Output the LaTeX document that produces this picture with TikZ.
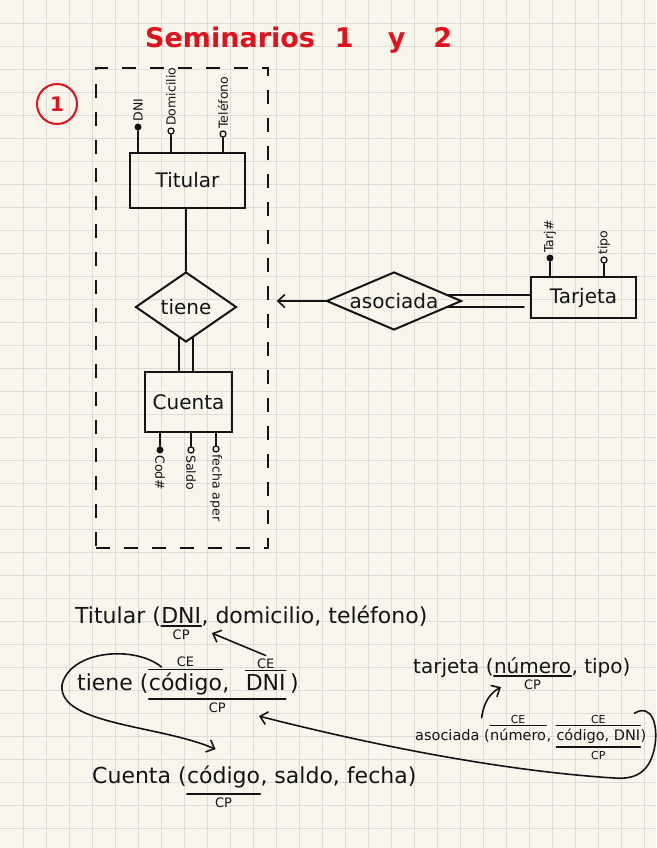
\documentclass[tikz,border=0pt]{standalone}
\usepackage{fontspec}
\setmainfont{DejaVu Sans}
\usetikzlibrary{shapes.geometric,arrows.meta,calc}
\definecolor{paper}{HTML}{F8F6EB}
\definecolor{gridc}{HTML}{DDDCD6}
\definecolor{ink}{HTML}{141414}
\definecolor{inkred}{HTML}{E0121C}
\newcommand{\fsz}[1]{\fontsize{#1}{#1}\selectfont}
\begin{document}
\begin{tikzpicture}[x=1pt,y=-1pt,
  ln/.style={draw=ink,line width=1.5pt,line cap=round},
  entity/.style={draw=ink,line width=2pt,inner sep=0pt,font=\fsz{20},text=ink},
  rel/.style={draw=ink,diamond,line width=2pt,inner sep=0pt,font=\fsz{20},text=ink},
  attr/.style={inner sep=1.5pt,font=\fsz{12.5},text=ink},
  keydot/.style={circle,fill=ink,inner sep=0pt,minimum size=7pt},
  opendot/.style={circle,draw=ink,line width=1.3pt,inner sep=0pt,minimum size=6pt},
  rt/.style={inner sep=0pt,anchor=base west,font=\fsz{22},text=ink},
  rts/.style={rt,font=\fsz{20}},
  rtx/.style={rt,font=\fsz{14.5}},
  lbl/.style={inner sep=0pt,font=\fsz{13},text=ink},
  lbls/.style={inner sep=0pt,font=\fsz{11},text=ink},
  ul/.style={draw=ink,line width=1.4pt,line cap=round},
  arr/.style={draw=ink,line width=1.6pt,line cap=round,-{Straight Barb[length=7pt,width=13pt,line width=1.6pt]}},
]
\useasboundingbox (0,0) rectangle (656,848);
\fill[paper] (0,0) rectangle (656,848);
\foreach \i in {1,...,28} \draw[gridc,line width=0.7pt] (\i*23,0) -- (\i*23,848);
\foreach \j in {1,...,36} \draw[gridc,line width=0.7pt] (0,\j*23) -- (656,\j*23);

% title
\node[font=\bfseries\fsz{27},text=inkred,anchor=base west,inner sep=0pt] (title) at (145,48) {Seminarios\hspace{20pt}1\hspace{34pt}y\hspace{28pt}2};
\node[circle,draw=inkred,line width=2pt,minimum size=40pt,inner sep=0pt,text=inkred,font=\bfseries\fsz{20}] (one) at (57,104) {1};

% aggregation box
\node[draw=ink,line width=1.4pt,dash pattern=on 14pt off 14pt,minimum width=172pt,minimum height=480pt,inner sep=0pt] (agg) at (182,308) {};

% entities and relationships
\node[entity,minimum width=115pt,minimum height=55pt] (tit) at (187.5,180) {Titular};
\node[rel,minimum width=101pt,minimum height=70pt] (tiene) at (186,307) {\makebox[0pt]{tiene}};
\node[entity,minimum width=87pt,minimum height=60pt] (cue) at (188.5,402) {Cuenta};
\node[entity,minimum width=105pt,minimum height=41pt] (tar) at (583.5,297.5) {Tarjeta};
\node[rel,minimum width=135pt,minimum height=58pt] (asoc) at (394,301) {\makebox[0pt]{asociada}};

\draw[ln,line width=1.8pt] (tit.south -| tiene.north) -- (tiene.north);
\draw[ln] ($(tiene.south)+(-7,-4.9)$) -- ($(tiene.south |- cue.north)+(-7,0)$);
\draw[ln] ($(tiene.south)+(7,-4.9)$) -- ($(tiene.south |- cue.north)+(7,0)$);
\draw[ln] ($(asoc.east)+(-14,-6)$) -- ($(asoc.east -| tar.west)+(0,-6)$);
\draw[ln] ($(asoc.east)+(-14,6)$) -- ($(asoc.east -| tar.west)+(-6,6)$);
\draw[arr,shorten >=8pt] (asoc.west) -- (asoc.west -| agg.east);

% attributes of Titular
\node[keydot] (dDNI) at (138,127) {};
\node[attr,rotate=90,anchor=west] (tDNI) at (dDNI.north) {DNI};
\draw[ln] (dDNI) -- (dDNI |- tit.north);
\node[opendot] (dDom) at (171,131) {};
\node[attr,rotate=90,anchor=west] (tDom) at (dDom.north) {Domicilio};
\draw[ln] (dDom.south) -- (dDom.south |- tit.north);
\node[opendot] (dTel) at (223,134) {};
\node[attr,rotate=90,anchor=west] (tTel) at (dTel.north) {Teléfono};
\draw[ln] (dTel.south) -- (dTel.south |- tit.north);

% attributes of Cuenta
\node[keydot] (dCod) at (160,450) {};
\node[attr,rotate=-90,anchor=west] (tCod) at (dCod.south) {Cod\#};
\draw[ln] (dCod) -- (dCod |- cue.south);
\node[opendot] (dSal) at (191,450) {};
\node[attr,rotate=-90,anchor=west] (tSal) at (dSal.south) {Saldo};
\draw[ln] (dSal.north) -- (dSal.north |- cue.south);
\node[opendot] (dFec) at (216,449) {};
\node[attr,rotate=-90,anchor=west] (tFec) at (dFec.south) {fecha aper};
\draw[ln] (dFec.north) -- (dFec.north |- cue.south);

% attributes of Tarjeta
\node[keydot] (dTj) at (550,258) {};
\node[attr,rotate=90,anchor=west] (tTj) at (dTj.north) {Tarj\#};
\draw[ln] (dTj) -- (dTj |- tar.north);
\node[opendot] (dTp) at (604,260) {};
\node[attr,rotate=90,anchor=west] (tTp) at (dTp.north) {tipo};
\draw[ln] (dTp.south) -- (dTp.south |- tar.north);

% relational schema
% Titular
\node[rt] (r1a) at (75,623) {Titular (};
\node[rt] (r1k) at (r1a.base east) {DNI};
\node[rt] (r1b) at (r1k.base east) {, domicilio, teléfono)};
\draw[ul] ([yshift=-3pt]r1k.base west) -- ([yshift=-3pt]r1k.base east);
\node[lbl,anchor=north] (cp1) at ([yshift=-7pt]r1k.base) {CP};

% tiene
\node[rt] (r2a) at (77,690) {tiene (};
\node[rt] (r2k1) at (r2a.base east) {código};
\node[rt] (r2c) at (r2k1.base east) {,\hspace{16pt}\mbox{}};
\node[rt] (r2k2) at (r2c.base east) {DNI};
\node[rt] (r2d) at (r2k2.base east) {\hspace{4pt})};
\draw[ul] ([yshift=3pt]r2k1.north west) -- ([yshift=3pt]r2k1.north east);
\node[lbl,anchor=south] (ce1) at ([yshift=5pt]r2k1.north) {CE};
\draw[ul] ([yshift=3pt]r2k2.north west) -- ([yshift=3pt]r2k2.north east);
\node[lbl,anchor=south] (ce2) at ([yshift=5pt]r2k2.north) {CE};
\draw[ul] ([yshift=-9pt]r2k1.base west) -- ([yshift=-9pt]r2k2.base east);
\coordinate (m2) at ($(r2k1.base west)!0.5!(r2k2.base east)$);
\node[lbl,anchor=north] (cp2) at ([yshift=-13pt]m2) {CP};

% Cuenta
\node[rt] (r3a) at (92,783) {Cuenta (};
\node[rt] (r3k) at (r3a.base east) {código};
\node[rt] (r3b) at (r3k.base east) {, saldo, fecha)};
\draw[ul] ([yshift=-11pt]r3k.base west) -- ([yshift=-11pt]r3k.base east);
\node[lbl,anchor=north] (cp3) at ([yshift=-15pt]r3k.base) {CP};

% tarjeta
\node[rts] (r4a) at (413,673) {tarjeta (};
\node[rts] (r4k) at (r4a.base east) {número};
\node[rts] (r4b) at (r4k.base east) {, tipo)};
\draw[ul] ([yshift=-3pt]r4k.base west) -- ([yshift=-3pt]r4k.base east);
\node[lbl,anchor=north] (cp4) at ([yshift=-7pt]r4k.base) {CP};

% asociada
\node[rtx] (r5a) at (415,740) {asociada (};
\node[rtx] (r5k1) at (r5a.base east) {número};
\node[rtx] (r5c) at (r5k1.base east) {,\hspace{5pt}\mbox{}};
\node[rtx] (r5k2) at (r5c.base east) {código, DNI};
\node[rtx] (r5d) at (r5k2.base east) {)};
\draw[ul] ([yshift=3pt]r5k1.north west) -- ([yshift=3pt]r5k1.north east);
\node[lbls,anchor=south] (ce5a) at ([yshift=4pt]r5k1.north) {CE};
\draw[ul] ([yshift=3pt]r5k2.north west) -- ([yshift=3pt]r5k2.north east);
\node[lbls,anchor=south] (ce5b) at ([yshift=4pt]r5k2.north) {CE};
\draw[ul] ([yshift=-7pt]r5k2.base west) -- ([yshift=-7pt]r5k2.base east);
\node[lbls,anchor=north] (cp5) at ([yshift=-11pt]r5k2.base) {CP};

% foreign key arrows
\draw[arr] ($(ce2.north)+(0,-3)$) -- ($(cp1.east)+(22,-2)$);
\draw[arr] ($(ce1.west)+(-15,5)$) .. controls (135,645) and (70,650) .. (62,685)
  .. controls (58,725) and (160,725) .. ($(r3k.north)+(-8,-16)$);
\draw[arr] ($(ce5a.west)+(-29,-2)$) .. controls (483,710) and (485,696) .. ($(cp4.west)+(-23,2)$);
\draw[arr] ($(r5k2.north east)+(-6,-15)$) .. controls (652,703) and (658,725) .. (655,745)
  .. controls (651,770) and (638,780) .. (614,778)
  .. controls (520,772) and (400,752) .. ($(cp2.east)+(33,8)$);
\end{tikzpicture}
\end{document}
